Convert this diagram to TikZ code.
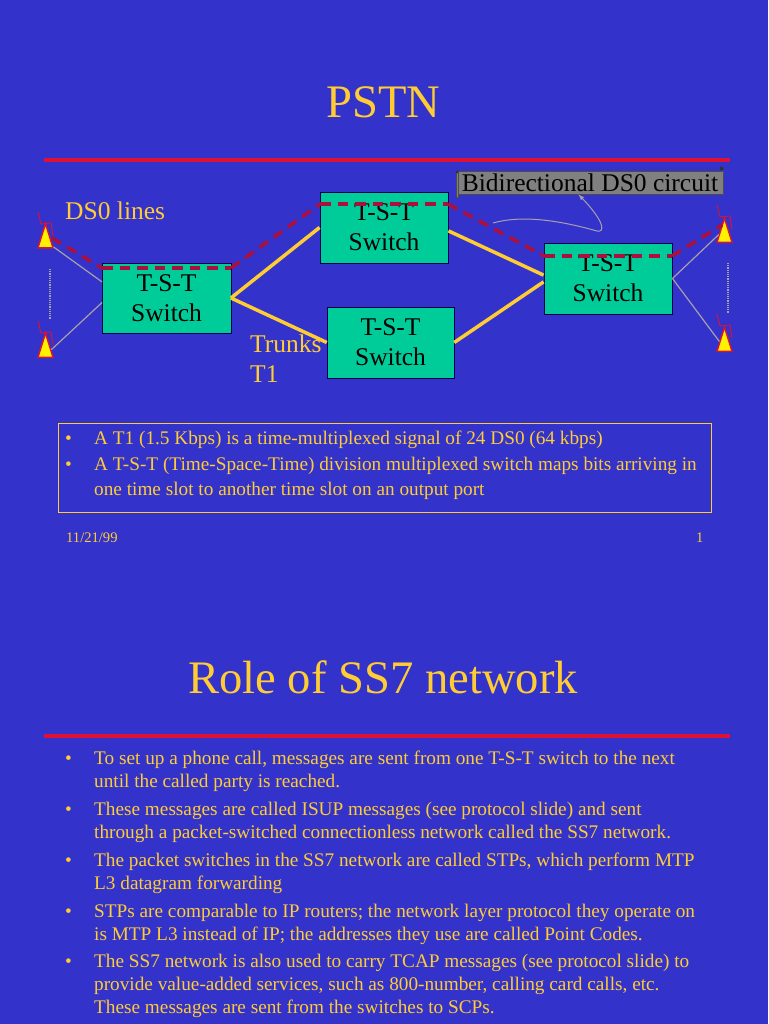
\documentclass[tikz,border=0pt]{standalone}
\usepackage{fontspec}
\setmainfont{Liberation Serif}
\usepackage{xcolor}
\usetikzlibrary{shapes.geometric}
\definecolor{slideblue}{HTML}{3333CC}
\definecolor{slideyellow}{HTML}{FFCC33}
\definecolor{boxgreen}{HTML}{00CC99}
\definecolor{ruled}{HTML}{DD1133}
\definecolor{dashred}{HTML}{AC0F3E}
\definecolor{thingray}{HTML}{A8A0A8}
\begin{document}
\begin{tikzpicture}[x=1pt, y=-1pt,
	title/.style={text=slideyellow, inner sep=0, anchor=base, font=\fontsize{46.6}{50}\selectfont},
	rulered/.style={draw=ruled, line width=3.5pt},
	main/.style={draw=black!70!blue, fill=boxgreen, minimum width=128.5pt, minimum height=70.5pt, inner sep=0, align=center, font=\fontsize{25.5}{30}\selectfont},
	lbl/.style={text=slideyellow, inner sep=0, anchor=base west, font=\fontsize{25.5}{30}\selectfont},
	body/.style={text=slideyellow, inner sep=0, anchor=base west, font=\fontsize{19.25}{22}\selectfont},
	small/.style={text=slideyellow, inner sep=0, anchor=base west, font=\fontsize{14.6}{16}\selectfont},
	trunk/.style={draw=slideyellow, line width=3.5pt},
	thin/.style={draw=thingray, line width=1.2pt},
	circ/.style={draw=dashred, line width=3.6pt, dash pattern=on 10.5pt off 7pt},
	ant/.style={isosceles triangle, isosceles triangle apex angle=34, isosceles triangle stretches, shape border rotate=90, minimum width=15pt, minimum height=24pt, inner sep=0, anchor=lower side, draw=ruled, fill=yellow, line width=1.4pt},
	squig/.style={draw=ruled, line width=0.9pt}]
	\useasboundingbox (0,0) rectangle (768,1024);
	\fill[slideblue] (0,0) rectangle (768,1024);

	%first slide
	\node[title] (pstn) at (383.5,118) {PSTN};
	\draw[rulered] (44,160) -- (730,160);

	%switches
	\node[main] (sw1) at (166.5,298) {T-S-T\\Switch};
	\node[main] (sw2) at (384,227.5) {T-S-T\\Switch};
	\node[main, minimum width=127pt] (sw3) at (390.5,342.5) {T-S-T\\Switch};
	\node[main] (sw4) at (608,278.5) {T-S-T\\Switch};

	%antennas
	\node[ant] (ant1) at (45.5,248.5) {};
	\node[ant] (ant2) at (45.5,358) {};
	\node[ant] (ant3) at (724.5,243) {};
	\node[ant] (ant4) at (724.5,352) {};
	\draw[squig] (38,212) -- (41,224) -- (51,223) -- (53,236);
	\draw[squig] (38,321) -- (41,333) -- (51,332) -- (53,345);
	\draw[squig] (717,205) -- (720,217) -- (730,216) -- (732,229);
	\draw[squig] (717,314) -- (720,326) -- (730,325) -- (732,338);

	%dotted lines
	\draw[gray!70!white, line width=1.2pt, densely dotted] (50,269) -- (50,319);
	\draw[gray!70!white, line width=1.2pt, densely dotted] (728,263) -- (728,313);

	%edges
	\draw[thin] (ant1.-30) -- (sw1.166);
	\draw[thin] (ant2.20) -- (sw1.184);
	\draw[thin] (ant3.160) -- (sw4.east);
	\draw[thin] (ant4.140) -- (sw4.east);
	\draw[trunk] (sw1.east) -- (sw2.west);
	\draw[trunk] (sw1.east) -- (sw3.west);
	\draw[trunk] (sw2.357) -- (sw4.177);
	\draw[trunk] (sw3.east) -- (sw4.183);

	%the circuit
	\coordinate (c1) at (52,238);
	\coordinate (c2) at (102,268);
	\coordinate (c3) at (231,268);
	\coordinate (c4) at (320,204);
	\coordinate (c5) at (448,204);
	\coordinate (c6) at (544,256);
	\coordinate (c7) at (672,256);
	\coordinate (c8) at (722,225);
	\draw[circ] (c1) -- (c2);
	\draw[circ] (c2) -- (c3);
	\draw[circ] (c3) -- (c4);
	\draw[circ] (c4) -- (c5);
	\draw[circ] (c5) -- (c6);
	\draw[circ] (c6) -- (c7);
	\draw[circ] (c7) -- (c8);

	%callout
	\node[draw=black!70, fill=gray, line width=0.9pt, minimum width=266pt, minimum height=23pt, inner sep=0, font=\fontsize{25.5}{30}\selectfont] (note) at (590,182.5) {Bidirectional DS0 circuit};
	\draw[black!70, fill=gray, line width=0.9pt] (456,172) rectangle (458.5,197);
	\fill[black!80] (721.5,168.5) circle (2pt);
	\fill[black!80] (457,172) circle (1.6pt);
	\coordinate (curl) at (493,223);
	\draw[thingray, line width=1pt, -latex] (curl) .. controls (525,214) and (565,222) .. (597,231) .. controls (605,233) and (605,222) .. (note.226);

	%labels
	\node[lbl] (ds0) at (65,220) {DS0 lines};
	\node[lbl] (trunks) at (250,352) {Trunks};
	\node[lbl] (t1) at (250,382) {T1};

	%text box
	\node[draw=slideyellow, minimum width=653pt, minimum height=89pt, inner sep=0] (frame) at (384.5,467.5) {};
	\node[body] (b1) at (65,444) {•};
	\node[body] (a1) at (94,444) {A T1 (1.5 Kbps) is a time-multiplexed signal of 24 DS0 (64 kbps)};
	\node[body] (b2) at (65,470) {•};
	\node[body] (a2) at (94,470) {A T-S-T (Time-Space-Time) division multiplexed switch maps bits arriving in};
	\node[body] (a3) at (94,495) {one time slot to another time slot on an output port};
	\node[small] (date) at (66,542) {11/21/99};
	\node[small] (page) at (696,542) {1};

	%second slide
	\node[title] (role) at (383,693) {Role of SS7 network};
	\draw[rulered] (44,736) -- (730,736);
	\node[body] (b3) at (65,764) {•};
	\node[body] (d1) at (94,764) {To set up a phone call, messages are sent from one T-S-T switch to the next};
	\node[body] (d2) at (94,787) {until the called party is reached.};
	\node[body] (b4) at (65,815) {•};
	\node[body] (d3) at (94,815) {These messages are called ISUP messages (see protocol slide) and sent};
	\node[body] (d4) at (94,838) {through a packet-switched connectionless network called the SS7 network.};
	\node[body] (b5) at (65,866) {•};
	\node[body] (d5) at (94,866) {The packet switches in the SS7 network are called STPs, which perform MTP};
	\node[body] (d6) at (94,889) {L3 datagram forwarding};
	\node[body] (b6) at (65,917) {•};
	\node[body] (d7) at (94,917) {STPs are comparable to IP routers; the network layer protocol they operate on};
	\node[body] (d8) at (94,940) {is MTP L3 instead of IP; the addresses they use are called Point Codes.};
	\node[body] (b7) at (65,967) {•};
	\node[body] (d9) at (94,967) {The SS7 network is also used to carry TCAP messages (see protocol slide) to};
	\node[body] (d10) at (94,990) {provide value-added services, such as 800-number, calling card calls, etc.};
	\node[body] (d11) at (94,1013) {These messages are sent from the switches to SCPs.};
\end{tikzpicture}
\end{document}
